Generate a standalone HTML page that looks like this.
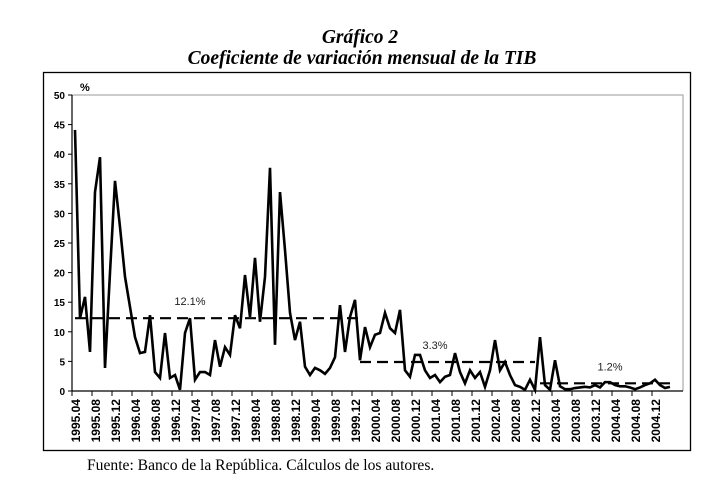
<!DOCTYPE html>
<html><head><meta charset="utf-8"><style>
body{margin:0;background:#fff;width:707px;height:487px;overflow:hidden}
svg{display:block}
</style></head><body>
<svg id="c" width="707" height="487" xmlns="http://www.w3.org/2000/svg">
<text x="360" y="43" text-anchor="middle" font-family="Liberation Serif, serif" font-style="italic" font-weight="bold" font-size="19.5">Gráfico 2</text>
<text x="362" y="64" text-anchor="middle" font-family="Liberation Serif, serif" font-style="italic" font-weight="bold" font-size="19.5">Coeficiente de variación mensual de la TIB</text>
<rect x="43.5" y="72.5" width="647" height="378" fill="none" stroke="#000" stroke-width="1.3"/>
<polyline points="72,95 683,95 683,391" fill="none" stroke="#999" stroke-width="1"/>
<text x="80" y="91" font-family="Liberation Sans, sans-serif" font-weight="bold" font-size="11">%</text>
<g id="axes"></g><g id="marks"></g>
<text x="87" y="470" font-family="Liberation Serif, serif" font-size="15.6">Fuente: Banco de la República. Cálculos de los autores.</text>
</svg>
<script>
const values=[44.1,12.3,15.9,6.6,33.6,39.5,3.9,20,35.5,27.7,19.3,14.2,9.1,6.4,6.6,12.8,3.2,2.2,9.8,2.2,2.7,0.2,9.8,12.3,1.9,3.2,3.2,2.7,8.6,4.1,7.4,6.1,12.8,10.6,19.6,12.5,22.5,11.7,19.3,37.7,7.8,33.6,23.8,13.2,8.6,11.7,4.1,2.7,3.9,3.5,2.9,3.9,5.7,14.5,6.6,12.5,15.4,5.2,10.8,7.4,9.5,9.8,13.2,10.6,9.8,13.7,3.5,2.4,6.1,6.1,3.5,2.2,2.7,1.5,2.4,2.7,6.4,3.2,1.3,3.5,2.2,3.2,0.7,3.5,8.6,3.5,4.9,2.7,1.0,0.7,0.2,1.9,0.2,9.1,1.0,0.2,5.2,0.8,0.3,0.3,0.5,0.6,0.7,0.6,1.0,0.6,1.5,1.5,1.0,0.8,0.8,0.6,0.3,0.6,1.0,1.3,1.9,1.0,0.5,0.7];
const meanLevels=[12.3,4.9,1.3];
const meanStarts=[0,57,93];
const meanEnds=[57,92,119];
const meanLabels=["12.1%","3.3%","1.2%"];
const meanLabelIdx=[23,72,107];
const yTicks=[0,5,10,15,20,25,30,35,40,45,50];
const startYear=1995,startMonth=4;
const NS="http://www.w3.org/2000/svg";
const x=i=>75+5*i, y=v=>391-v*5.92;
const ax=document.getElementById('axes'),mk=document.getElementById('marks');
function el(t,a,p){const e=document.createElementNS(NS,t);for(const k in a)e.setAttribute(k,a[k]);p.appendChild(e);return e;}
let e=el('line',{x1:72,y1:95,x2:72,y2:391,stroke:'#000','stroke-width':1.2},ax);


e=el('line',{x1:72,y1:391,x2:683,y2:391,stroke:'#000','stroke-width':1.2},ax);


yTicks.forEach(v=>{
 let t=el('line',{x1:68,y1:y(v),x2:72,y2:y(v),stroke:'#000'},ax);
 
 
 let l=el('text',{x:65,y:y(v)+4,'text-anchor':'end','font-family':'Liberation Sans, sans-serif','font-size':10,'font-weight':'bold'},ax);
 l.textContent=v;
 
 
});
for(let i=0;i<values.length;i+=4){
 let tx=x(i)-3;
 let t=el('line',{x1:tx,y1:391,x2:tx,y2:396,stroke:'#000'},ax);
 
 
 let m=startMonth-1+i, yr=startYear+Math.floor(m/12), mo=m%12+1;
 let lx=x(i)+5;
 let l=el('text',{x:lx,y:399,'text-anchor':'end','font-family':'Liberation Sans, sans-serif','font-size':12,'font-weight':'bold',transform:`rotate(-90 ${lx} 399)`},ax);
 l.textContent=yr+'.'+String(mo).padStart(2,'0');
 
 
}
meanLevels.forEach((v,k)=>{
 let d=el('line',{x1:x(meanStarts[k]),y1:y(v),x2:x(meanEnds[k]),y2:y(v),stroke:'#000','stroke-width':2.2,'stroke-dasharray':'11,6'},mk);
 
 
 let l=el('text',{x:x(meanLabelIdx[k]),y:y(v)-13,'text-anchor':'middle','font-family':'Liberation Sans, sans-serif','font-size':11,fill:'#222'},mk);
 l.textContent=meanLabels[k];
 
 
});
let p=el('polyline',{points:values.map((v,i)=>x(i)+','+y(v)).join(' '),fill:'none',stroke:'#000','stroke-width':2.6,'stroke-linejoin':'miter'},mk);


</script>
</body></html>
